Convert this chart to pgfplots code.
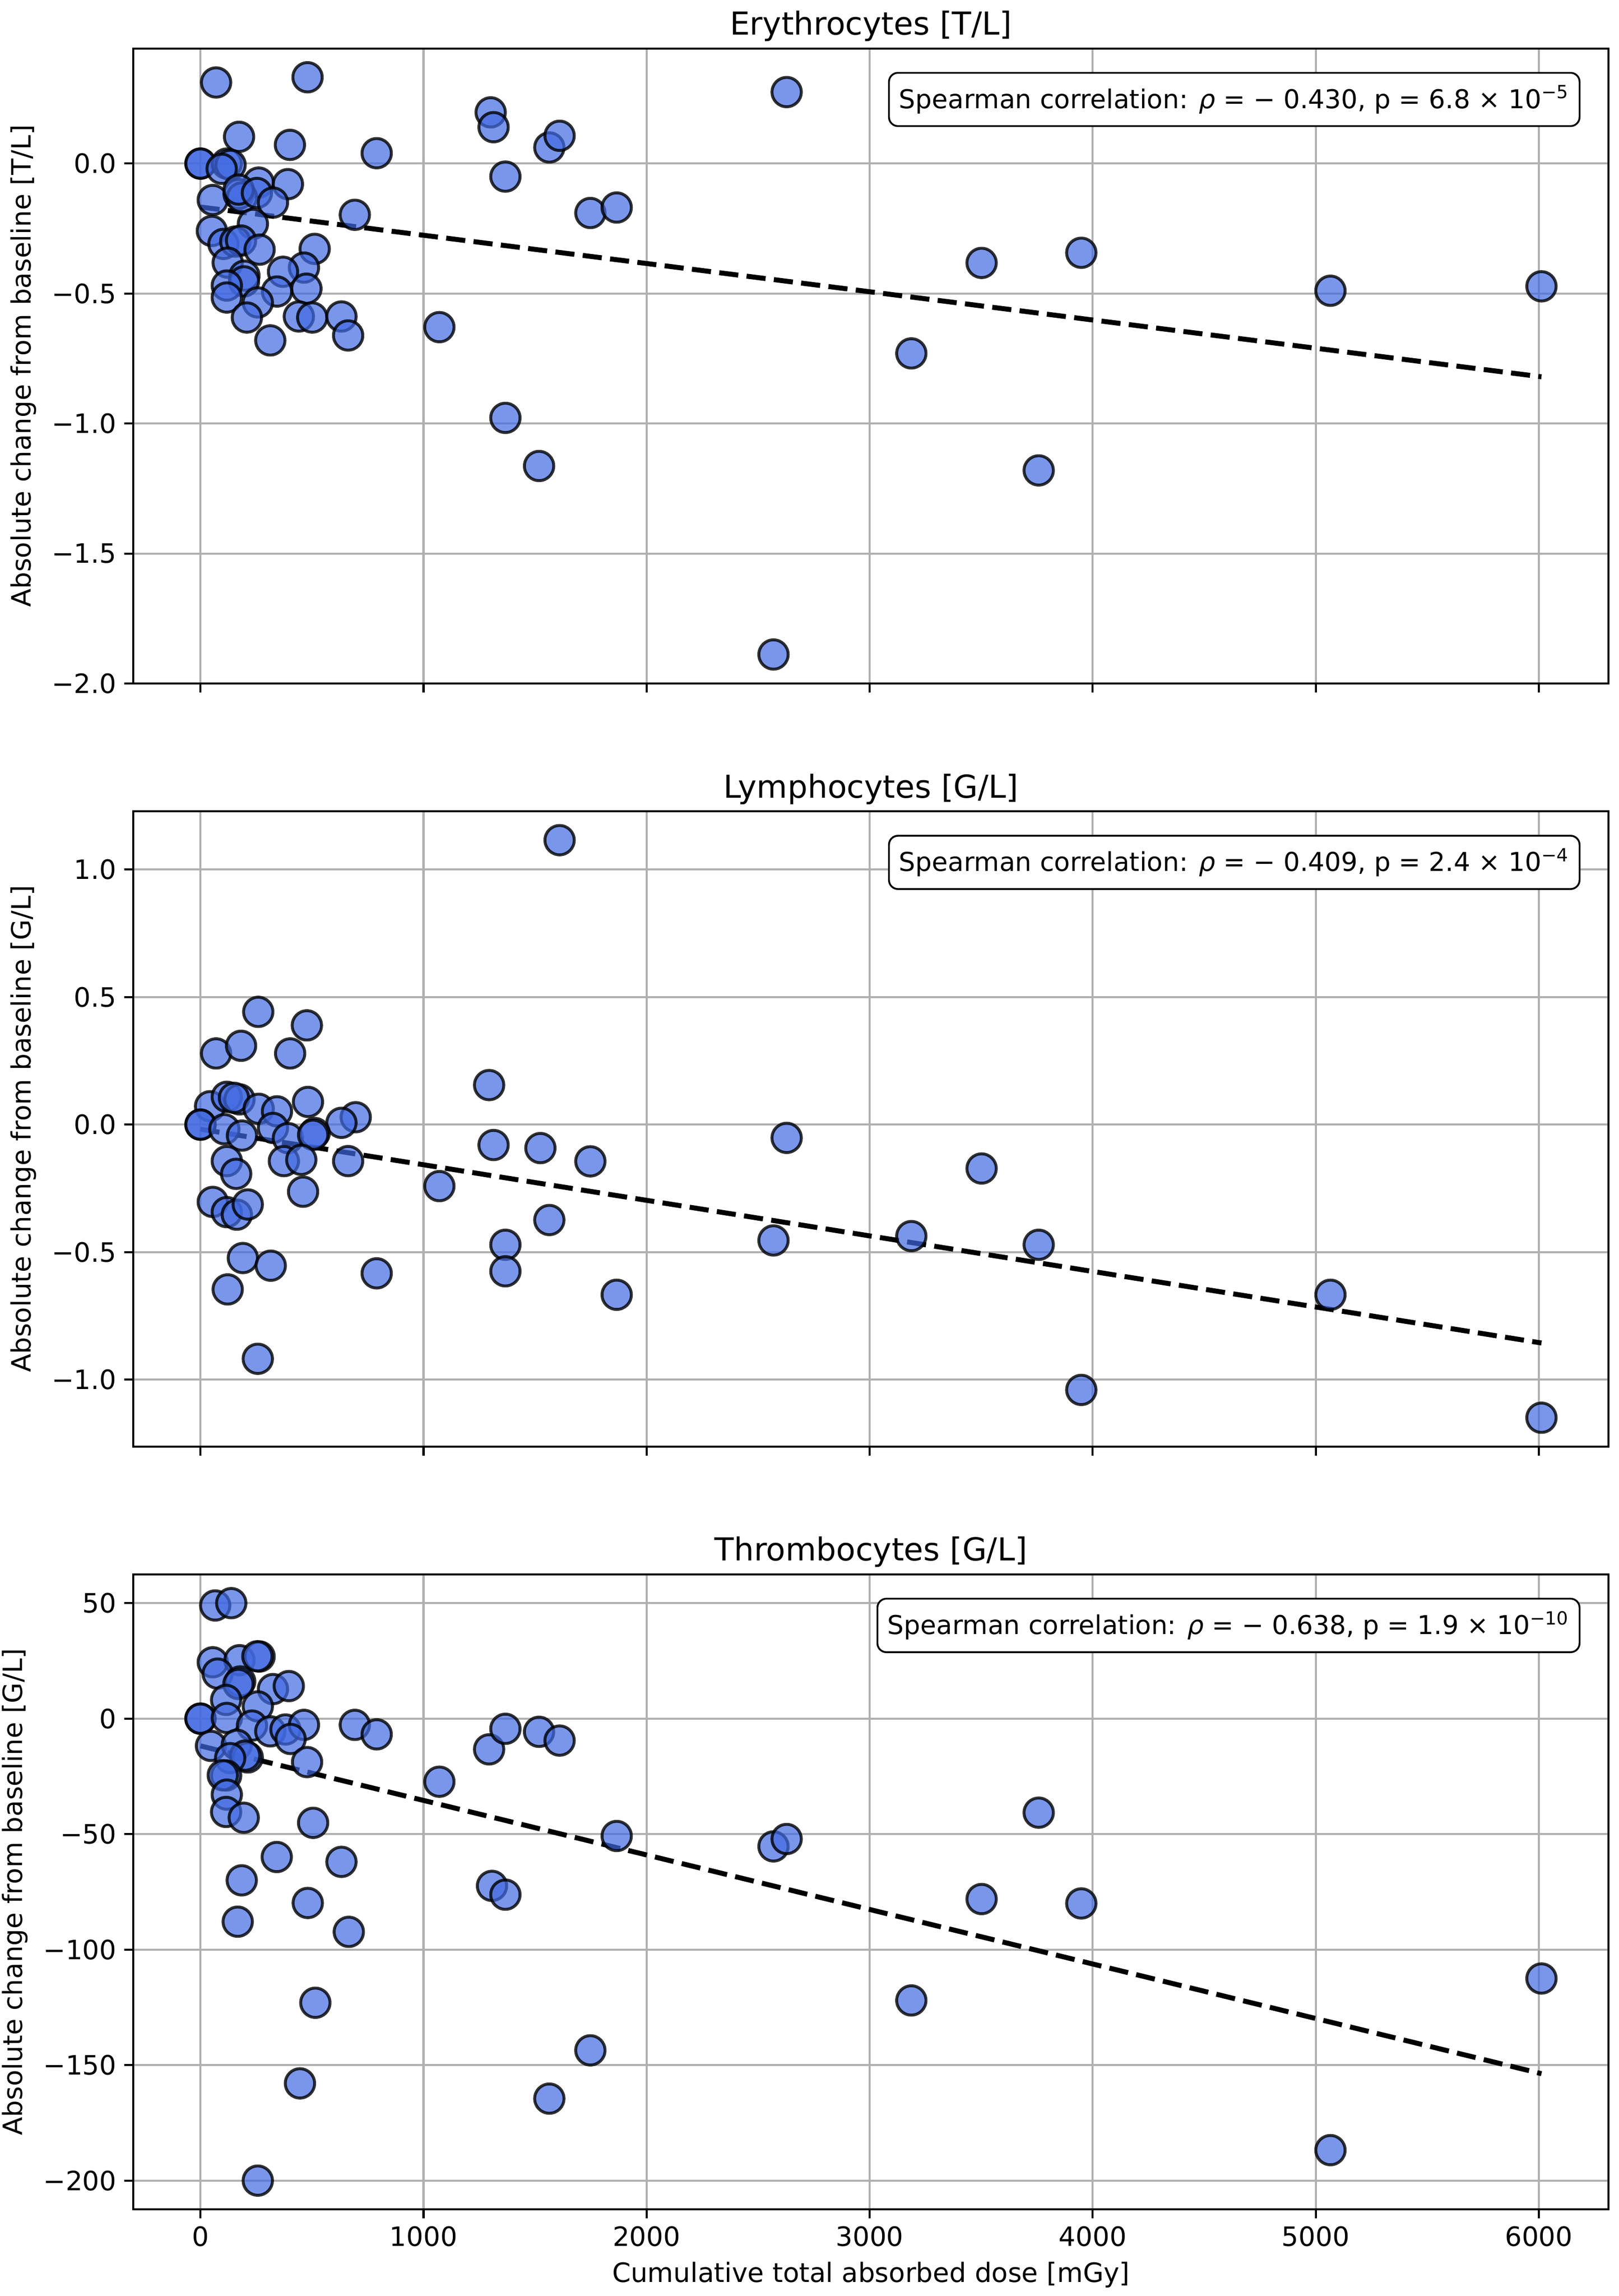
\documentclass[border=0pt]{standalone}
\usepackage{pgfplots}
\pgfplotsset{compat=1.18}
\usepackage{fontspec}
\setmainfont{DejaVu Sans}
\definecolor{royal}{RGB}{65,105,225}
\definecolor{gridgray}{HTML}{B0B0B0}
\pgfplotsset{
  panel/.style={
    scale only axis, width=653.9pt, height=281.5pt,
    xmin=-300.6, xmax=6312.6,
    xtick={0,1000,2000,3000,4000,5000,6000},
    grid=major, major grid style={gridgray, line width=0.9pt},
    axis line style={line width=0.9pt},
    tick style={black, line width=0.9pt}, tick align=outside, major tick length=4pt,
    xtick pos=bottom, ytick pos=left,
    tick label style={font=\fontsize{11.8}{14}\selectfont},
    label style={font=\fontsize{11.8}{14}\selectfont},
    title style={font=\fontsize{14}{16}\selectfont, yshift=-6.5pt},
    /pgf/number format/assume math mode=true,
  },
  pts/.style={only marks, mark=*, mark size=6.5pt,
    mark options={fill=royal, draw=black, fill opacity=0.7, draw opacity=0.8, line width=1.3pt}},
  reg/.style={black, line width=2.2pt, dash pattern=on 8.5pt off 3.7pt},
}
\newcommand{\spbox}[1]{\node[draw, line width=0.8pt, fill=white, rounded corners=4pt, inner xsep=4.5pt, inner ysep=5.5pt, anchor=north east, font=\fontsize{11.5}{13.5}\selectfont] at (rel axis cs:0.981,0.963) {#1};}
\begin{document}
\begin{tikzpicture}
\useasboundingbox (-59.15pt,21.45pt) rectangle (658.45pt,-996.05pt);
% ---------------- Erythrocytes
\begin{axis}[panel, at={(0,0)}, anchor=north west,
  title={Erythrocytes [T/L]},
  ymin=-2.0, ymax=0.443,
  ytick={-2,-1.5,-1,-0.5,0}, yticklabels={−2.0,−1.5,−1.0,−0.5,0.0},
  xticklabels={},
  ylabel={Absolute change from baseline [T/L]}]
\addplot[pts] coordinates {
(70,0.312) (480,0.332) (173,0.103) (401,0.072) (790,0.04)
(0,0) (0,0) (118,0) (135,-0.005) (95,-0.02)
(261,-0.073) (392,-0.079) (55,-0.14) (171,-0.117) (186,-0.13) (171,-0.10)
(253,-0.113) (325,-0.15) (692,-0.197) (235,-0.232) (51,-0.259)
(103,-0.309) (156,-0.30) (182,-0.296) (265,-0.331) (512,-0.328)
(122,-0.381) (464,-0.40) (370,-0.416) (197,-0.431) (195,-0.453)
(118,-0.469) (118,-0.515) (475,-0.481) (343,-0.492) (257,-0.534)
(208,-0.592) (441,-0.588) (501,-0.592) (632,-0.588) (662,-0.661) (313,-0.68)
(1071,-0.629) (1301,0.197) (1314,0.14) (1367,-0.05) (1367,-0.978)
(1518,-1.163) (1564,0.062) (1610,0.107) (1748,-0.19) (1866,-0.169)
(2569,-1.888) (2628,0.275) (3187,-0.73) (3502,-0.382) (3758,-1.18)
(3949,-0.343) (5066,-0.489) (6012,-0.472)
};
\addplot[reg] coordinates {(0,-0.167) (6012,-0.82)};
\spbox{Spearman correlation: \textit{ρ} = − 0.430, p = 6.8 × 10\textsuperscript{−5}}
\end{axis}
% ---------------- Lymphocytes
\begin{axis}[panel, at={(0,-338.1pt)}, anchor=north west,
  title={Lymphocytes [G/L]},
  ymin=-1.262, ymax=1.228,
  ytick={-1,-0.5,0,0.5,1}, yticklabels={−1.0,−0.5,0.0,0.5,1.0},
  xticklabels={},
  ylabel={Absolute change from baseline [G/L]}]
\addplot[pts] coordinates {
(259,0.442) (477,0.389) (70,0.279) (182,0.309) (402,0.279) (482,0.089)
(43,0.072) (118,0.109) (175,0.099) (150,0.105) (261,0.062) (343,0.052)
(696,0.029) (632,0.007) (0,0) (0,0) (107,-0.018) (186,-0.043) (325,-0.013)
(392,-0.053) (512,-0.033) (505,-0.04) (118,-0.143) (160,-0.193) (374,-0.143)
(452,-0.138) (662,-0.143) (460,-0.263) (55,-0.303) (118,-0.343) (163,-0.353)
(212,-0.313) (190,-0.523) (315,-0.553) (790,-0.583) (122,-0.646) (257,-0.918)
(1071,-0.241) (1294,0.155) (1314,-0.08) (1367,-0.471) (1367,-0.575)
(1524,-0.092) (1564,-0.374) (1610,1.115) (1748,-0.144) (1866,-0.667)
(2569,-0.454) (2628,-0.052) (3187,-0.437) (3502,-0.172) (3758,-0.471)
(3949,-1.04) (5066,-0.667) (6012,-1.149)
};
\addplot[reg] coordinates {(0,-0.018) (6012,-0.856)};
\spbox{Spearman correlation: \textit{ρ} = − 0.409, p = 2.4 × 10\textsuperscript{−4}}
\end{axis}
% ---------------- Thrombocytes
\begin{axis}[panel, at={(0,-676.2pt)}, anchor=north west,
  title={Thrombocytes [G/L]},
  ymin=-212.5, ymax=62.5,
  ytick={-200,-150,-100,-50,0,50}, yticklabels={−200,−150,−100,−50,0,50},
  xticklabels={0,1000,2000,3000,4000,5000,6000},
  xlabel={Cumulative total absorbed dose [mGy]},
  ylabel={Absolute change from baseline [G/L]}]
\addplot[pts] coordinates {
(66,49) (138,50) (55,24.4) (175,25.3) (265,26.9) (255,27) (77,19.5)
(178,16.1) (170,15) (325,12.8) (396,14.1) (115,8.1) (257,5.3) (0,0) (0,0)
(118,0.3) (231,-3) (313,-5.5) (381,-4.7) (464,-2.7) (404,-8.8) (47,-11.8)
(163,-11.3) (212,-16.8) (200,-16) (692,-2.7) (790,-6.8) (478,-18.8)
(133,-17.1) (115,-24.6) (100,-24.5) (118,-32.9) (115,-40.4) (194,-42.9)
(505,-45.1) (342,-59.9) (632,-62) (185,-70) (481,-79.8) (167,-87.9)
(665,-92.3) (515,-123) (446,-157.9) (257,-200)
(1071,-27.3) (1294,-13.3) (1307,-72.4) (1367,-4.4) (1367,-76.2)
(1518,-5.7) (1564,-164.5) (1610,-9.5) (1748,-143.6) (1866,-50.8)
(2569,-55.3) (2628,-52.1) (3187,-122) (3502,-78.1) (3758,-40.7)
(3949,-80) (5066,-186.8) (6012,-112.5)
};
\addplot[reg] coordinates {(0,-11.8) (6012,-153.7)};
\spbox{Spearman correlation: \textit{ρ} = − 0.638, p = 1.9 × 10\textsuperscript{−10}}
\end{axis}
\end{tikzpicture}
\end{document}
